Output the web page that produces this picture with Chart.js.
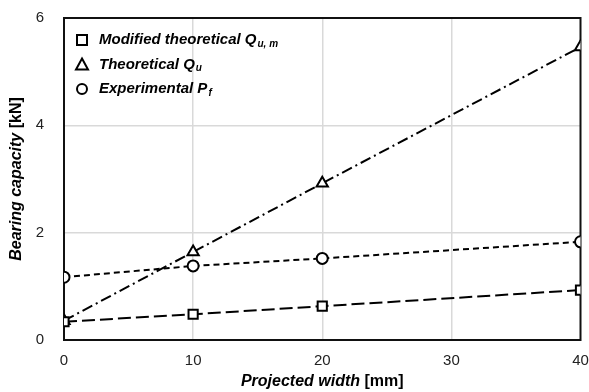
<!DOCTYPE html>
<html lang="en">
<head>
  <meta charset="UTF-8">
  <title>Bearing capacity</title>
  <script src="https://cdn.jsdelivr.net/npm/chart.js"></script>
  <style>
    body { margin: 0; background: #fff; }
    #wrap { width: 589px; height: 392px; position: relative; }
  </style>
</head>
<body>
<div id="wrap"><canvas id="chart"></canvas></div>
<script>
  // dane
  const widths = [0, 10, 20, 40];
  const modifiedQum = [0.34, 0.48, 0.63, 0.93];
  const theoreticalQu = [0.36, 1.64, 2.92, 5.46];
  const experimentalPf = [1.17, 1.38, 1.52, 1.83];
  const xTicks = [0, 10, 20, 30, 40];
  const yTicks = [0, 2, 4, 6];

  // legenda: nazwa + indeks dolny
  const legendItems = [
    { main: 'Modified theoretical Q', sub: 'u, m', marker: 'rect' },
    { main: 'Theoretical Q', sub: 'u', marker: 'triangle' },
    { main: 'Experimental P', sub: 'f', marker: 'circle' }
  ];

  const pts = arr => arr.map((v, i) => ({ x: widths[i], y: v }));

  const frame = {
    id: 'frame',
    beforeDatasetsDraw(chart) {
      const { ctx, chartArea: a } = chart;
      ctx.save();
      ctx.strokeStyle = '#111';
      ctx.lineWidth = 2;
      ctx.strokeRect(a.left, a.top, a.right - a.left, a.bottom - a.top);
      ctx.restore();
    },
    afterDraw(chart) {
      const { ctx, chartArea: a } = chart;
      ctx.save();
      ctx.fillStyle = '#000';
      ctx.textBaseline = 'middle';

      // legenda
      legendItems.forEach((it, i) => {
        const y = 40 + i * 24.5;
        const mx = 82;
        ctx.strokeStyle = '#000';
        ctx.lineWidth = 2;
        ctx.beginPath();
        if (it.marker === 'rect') ctx.rect(mx - 5, y - 5, 10, 10);
        else if (it.marker === 'triangle') { ctx.moveTo(mx, y - 6); ctx.lineTo(mx + 6, y + 5); ctx.lineTo(mx - 6, y + 5); ctx.closePath(); }
        else ctx.arc(mx, y, 5, 0, Math.PI * 2);
        ctx.stroke();
        ctx.font = 'italic bold 15px "Liberation Sans", Arial';
        ctx.textAlign = 'left';
        ctx.fillText(it.main, 99, y);
        const w = ctx.measureText(it.main).width;
        ctx.font = 'italic bold 10px "Liberation Sans", Arial';
        ctx.fillText(it.sub, 99 + w + 1, y + 4);
      });

      // tytuł osi X
      const t1 = 'Projected width ';
      const t2 = '[mm]';
      ctx.font = 'bold 16px "Liberation Sans", Arial';
      const w2 = ctx.measureText(t2).width;
      ctx.font = 'italic bold 16px "Liberation Sans", Arial';
      const w1 = ctx.measureText(t1).width;
      let x0 = (a.left + a.right) / 2 - (w1 + w2) / 2;
      ctx.textAlign = 'left';
      ctx.fillText(t1, x0, 382);
      ctx.font = 'bold 16px "Liberation Sans", Arial';
      ctx.fillText(t2, x0 + w1, 382);

      // tytuł osi Y
      ctx.translate(17, (a.top + a.bottom) / 2);
      ctx.rotate(-Math.PI / 2);
      const s1 = 'Bearing capacity ';
      const s2 = '[kN]';
      ctx.font = 'italic bold 16px "Liberation Sans", Arial';
      const v1 = ctx.measureText(s1).width;
      ctx.font = 'bold 16px "Liberation Sans", Arial';
      const v2 = ctx.measureText(s2).width;
      x0 = -(v1 + v2) / 2;
      ctx.font = 'italic bold 16px "Liberation Sans", Arial';
      ctx.fillText(s1, x0, 0);
      ctx.font = 'bold 16px "Liberation Sans", Arial';
      ctx.fillText(s2, x0 + v1, 0);
      ctx.restore();
    }
  };

  const common = {
    borderColor: '#000',
    borderWidth: 2,
    pointBackgroundColor: '#fff',
    pointBorderColor: '#000',
    pointBorderWidth: 2,
    pointRadius: 5.5,
    fill: false,
    tension: 0
  };

  new Chart(document.getElementById('chart'), {
    type: 'line',
    data: {
      datasets: [
        { ...common, label: 'Modified theoretical Qu,m', data: pts(modifiedQum), pointStyle: 'rect', pointRadius: 6.5, borderDash: [13, 5] },
        { ...common, label: 'Theoretical Qu', data: pts(theoreticalQu), pointStyle: 'triangle', pointRadius: 6.5, borderDash: [11, 4, 2, 4] },
        { ...common, label: 'Experimental Pf', data: pts(experimentalPf), pointStyle: 'circle', borderDash: [6, 4] }
      ]
    },
    options: {
      responsive: true,
      maintainAspectRatio: false,
      animation: false,
      layout: { padding: { top: 18, right: 8, left: 0, bottom: 0 } },
      plugins: { legend: { display: false }, tooltip: { enabled: false } },
      scales: {
        x: {
          type: 'linear',
          min: 0, max: 40,
          afterBuildTicks: s => { s.ticks = xTicks.map(v => ({ value: v })); },
          afterFit: s => { s.height = 52; s.paddingRight = 0; s.paddingLeft = 0; },
          ticks: { color: '#222', font: { size: 15, family: '"Liberation Sans", Arial' }, padding: 12 },
          grid: { color: c => (c.tick.value === 0 || c.tick.value === 40) ? 'rgba(0,0,0,0)' : '#d9d9d9', lineWidth: 1.5, drawTicks: false },
          border: { display: false }
        },
        y: {
          min: 0, max: 6,
          afterBuildTicks: s => { s.ticks = yTicks.map(v => ({ value: v })); },
          afterFit: s => { s.width = 64; s.paddingTop = 0; s.paddingBottom = 0; },
          ticks: { color: '#222', font: { size: 15, family: '"Liberation Sans", Arial' }, padding: 20 },
          grid: { color: c => (c.tick.value === 0 || c.tick.value === 6) ? 'rgba(0,0,0,0)' : '#d9d9d9', lineWidth: 1.5, drawTicks: false },
          border: { display: false }
        }
      }
    },
    plugins: [frame]
  });
</script>
</body>
</html>
